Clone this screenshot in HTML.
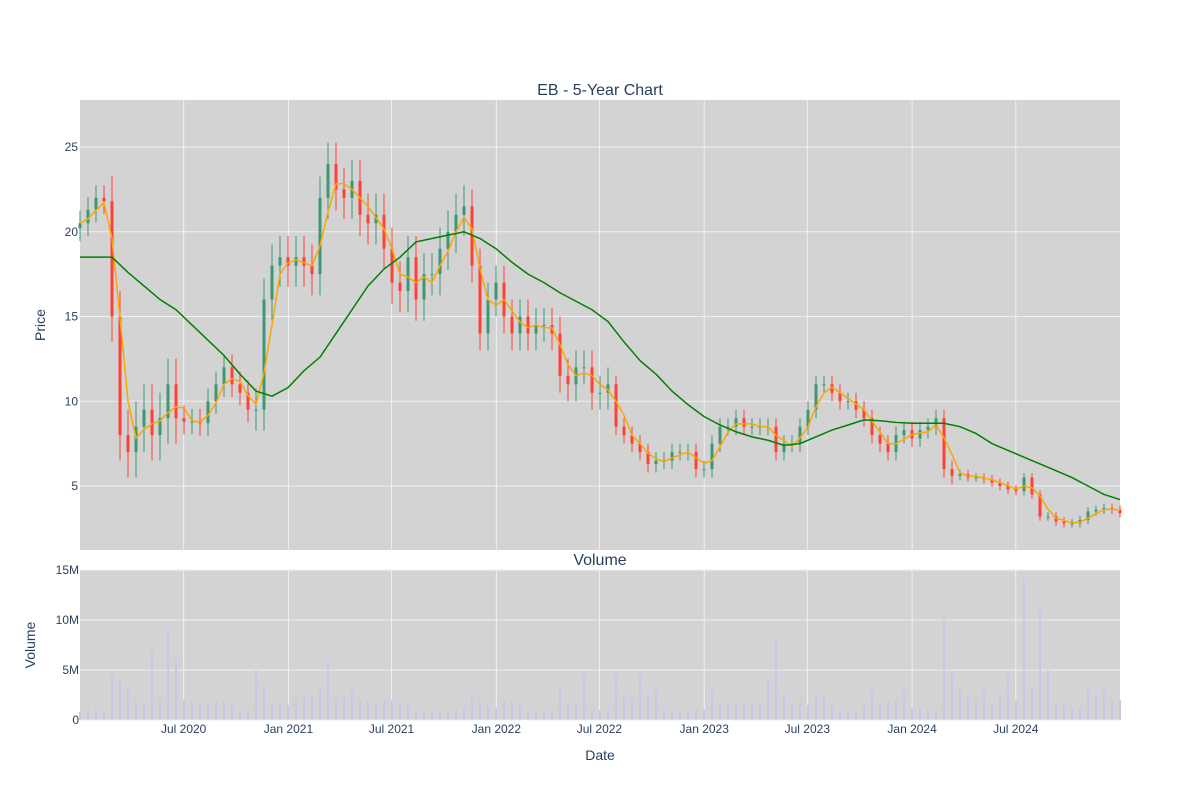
<!DOCTYPE html>
<html><head><meta charset="utf-8"><style>
body{margin:0;background:#fff;font-family:"Liberation Sans","DejaVu Sans",sans-serif}
text{font-family:"Liberation Sans","DejaVu Sans",sans-serif;fill:#2a3f5f}
</style></head><body>
<svg id="chart" width="1200" height="800" xmlns="http://www.w3.org/2000/svg">
<rect width="1200" height="800" fill="#fff"/>
<rect x="80" y="100" width="1040" height="450" fill="#d3d3d3"/>
<rect x="80" y="570" width="1040" height="150" fill="#d3d3d3"/>
<g id="grid"></g>
<g id="vol"></g>
<g id="candles"></g>
<g id="lines"></g>
<g id="axes"></g>
<text x="600" y="95" text-anchor="middle" font-size="16">EB - 5-Year Chart</text>
<text x="600" y="565" text-anchor="middle" font-size="16">Volume</text>
<text x="45" y="325" text-anchor="middle" font-size="14" transform="rotate(-90 45 325)">Price</text>
<text x="35" y="645" text-anchor="middle" font-size="14" transform="rotate(-90 35 645)">Volume</text>
<text x="600" y="760" text-anchor="middle" font-size="14">Date</text>
</svg>
<script>
const closes=[20.5,21.3,22.0,21.8,15,8,7,8.5,9.5,8,9,11,9,8.8,8.8,8.7,10,11,12,11,10.5,9.5,9.5,16,18,18.5,18,18.5,18,17.5,22,24,22.5,22,23,21,20.5,21,19,17,16.5,18.5,16,17.5,17.5,19,20,21,21.5,18,14,16,17,15,14,15,14,14.5,14.5,14,11.5,11,12,12,10.5,10.5,11,8.5,8,7.5,7,6.3,6.5,6.5,7,7,7,6,6,7.5,8.5,8.5,9,8.5,8.5,8.5,8.5,7,7.5,7.5,8.5,9.5,11,11,10.5,10,10,9.5,9,8,7.5,7,8,8.3,7.8,8.3,8.5,9,6,5.6,5.7,5.5,5.5,5.4,5.2,5,4.8,4.7,5.5,4.5,3.2,3.2,2.9,2.8,2.8,3,3.5,3.6,3.7,3.6,3.4];
const firstOpen=20.2;
const ranges=[1.5,1.5,1.5,1.5,3,3,3,3,3,3,3,3,3,1.5,1.5,1.5,1.5,1.5,1.5,1.5,1.5,1.5,2.5,2.5,2.5,2.5,2.5,2.5,2.5,2.5,2.5,2.5,2.5,2.5,2.5,2.5,2.5,2.5,2.5,2.5,2.5,2.5,2.5,2.5,2.5,2.5,2.5,2.5,2.5,2,2,2,2,2,2,2,2,2,2,2,2,2,2,2,2,2,2,1,1,1,1,1,1,1,1,1,1,1,1,1,1,1,1,1,1,1,1,1,1,1,1,1,1,1,1,1,1,1,1,1,1,1,1,1,1,1,1,1,1,1,0.5,0.5,0.5,0.5,0.5,0.5,0.5,0.5,0.5,0.5,0.5,0.5,0.5,0.5,0.5,0.5,0.5,0.5,0.5,0.5,0.5,0.5,0.5];
const volumes=[0.8,1.2,0.9,0.8,4.5,4,3,2,1.5,7,2,9,6,2,2,1.5,1.5,2,2,1.5,1,1,5,3.5,1.5,1.5,1.5,2,2.5,2.5,3,6,2,2.5,3,2,2,1.5,2,2,1.5,1.5,1,0.8,0.8,0.8,0.8,1,1.2,2.5,2,1.5,1.2,2,2,1.5,1,0.8,1,1,3.5,1.5,1.5,4.5,1,1,1,4.5,2.5,2,4.5,2.5,3,1,1,0.8,1,1,1,3,1.5,2,1.5,1.5,1.5,1.5,4,8,2.5,1.5,2,1.5,2.5,2.5,1.5,1,1,1,1.5,3,1.5,2,2,3,1.2,1.2,1,1,10,4.5,3,2.5,2,3,1.5,2.5,4.5,2,14,3,11,5,1.5,1.5,1.2,1.2,3.5,2.5,3,2,2];
const sma200=[18.5,18.5,18.5,17.6,16.8,16,15.4,14.5,13.6,12.7,11.6,10.6,10.3,10.8,11.8,12.6,14,15.4,16.8,17.8,18.5,19.4,19.6,19.8,20,19.6,19,18.2,17.5,17,16.4,15.9,15.4,14.7,13.5,12.4,11.6,10.6,9.8,9.1,8.6,8.2,7.9,7.7,7.4,7.5,7.9,8.3,8.6,8.9,8.85,8.75,8.7,8.7,8.7,8.5,8.1,7.5,7.1,6.7,6.3,5.9,5.5,5,4.5,4.2];
const priceTicks=[5,10,15,20,25];
const volTicks=[0,5,10,15];
const volTickLabels=["0","5M","10M","15M"];
const dateTicks=["Jul 2020","Jan 2021","Jul 2021","Jan 2022","Jul 2022","Jan 2023","Jul 2023","Jan 2024","Jul 2024"];
const dateTickDates=["2020-07-01","2021-01-01","2021-07-01","2022-01-01","2022-07-01","2023-01-01","2023-07-01","2024-01-01","2024-07-01"];
const NS="http://www.w3.org/2000/svg";
const t0=Date.parse("2020-01-01"),t1=Date.parse("2024-12-31");
const xDate=d=>80+(Date.parse(d)-t0)/(t1-t0)*1040;
const xIdx=i=>80+i*(1040/(closes.length-1));
const yP=p=>486-(p-5)*16.95;
const yV=v=>720-v*10;
function mk(tag,attrs,parent){const e=document.createElementNS(NS,tag);for(const k in attrs)e.setAttribute(k,attrs[k]);document.getElementById(parent).appendChild(e);return e;}
priceTicks.forEach(p=>{
 const l=mk('line',{x1:80,x2:1120,y1:yP(p),y2:yP(p),stroke:'#eef0f4','stroke-width':1},'grid');
 
 
 const t=mk('text',{x:78,y:yP(p)+4,'text-anchor':'end','font-size':12},'axes');t.textContent=p;
 
 
});
volTicks.forEach((v,i)=>{
 const l=mk('line',{x1:80,x2:1120,y1:yV(v),y2:yV(v),stroke:'#eef0f4','stroke-width':1},'grid');
 
 
 const t=mk('text',{x:79,y:yV(v)+4,'text-anchor':'end','font-size':12},'axes');t.textContent=volTickLabels[i];
 
 
});
dateTickDates.forEach((d,i)=>{
 const x=xDate(d);
 const l=mk('line',{x1:x,x2:x,y1:100,y2:550,stroke:'#eef0f4','stroke-width':1},'grid');
 
 
 const l2=mk('line',{x1:x,x2:x,y1:570,y2:720,stroke:'#eef0f4','stroke-width':1},'grid');
 
 
 const t=mk('text',{x:x,y:733,'text-anchor':'middle','font-size':12},'axes');t.textContent=dateTicks[i];
 
 
});
volumes.forEach((v,i)=>{
 const r=mk('rect',{x:xIdx(i)-1,y:yV(v),width:2,height:720-yV(v),fill:'#c9c6ec'},'vol');
 
 
});
closes.forEach((c,i)=>{
 const o=i?closes[i-1]:firstOpen;
 const up=c>=o;
 const col=up?'#3D9970':'#FF4136';
 const hi=Math.max(o,c)+ranges[i]/2,lo=Math.min(o,c)-ranges[i]/2;
 const w=mk('line',{x1:xIdx(i),x2:xIdx(i),y1:yP(hi),y2:yP(lo),stroke:col,'stroke-width':1},'candles');
 
 
 const y1=yP(Math.max(o,c)),y2=yP(Math.min(o,c));
 const r=mk('rect',{x:xIdx(i)-1.5,y:y1,width:3,height:Math.max(1,y2-y1),fill:col},'candles');
 
 
});
let pts=closes.map((c,i)=>{const a=closes[Math.max(0,i-1)],b=closes[Math.max(0,i-2)];const m=i?(c+a+(i>1?b:a))/3:c;return xIdx(i)+','+yP(m);}).join(' ');
const ma=mk('polyline',{points:pts,fill:'none',stroke:'orange','stroke-width':1.5},'lines');


pts=sma200.map((v,i)=>(80+i*(1040/(sma200.length-1)))+','+yP(v)).join(' ');
const ma2=mk('polyline',{points:pts,fill:'none',stroke:'green','stroke-width':1.5},'lines');


</script>
</body></html>
